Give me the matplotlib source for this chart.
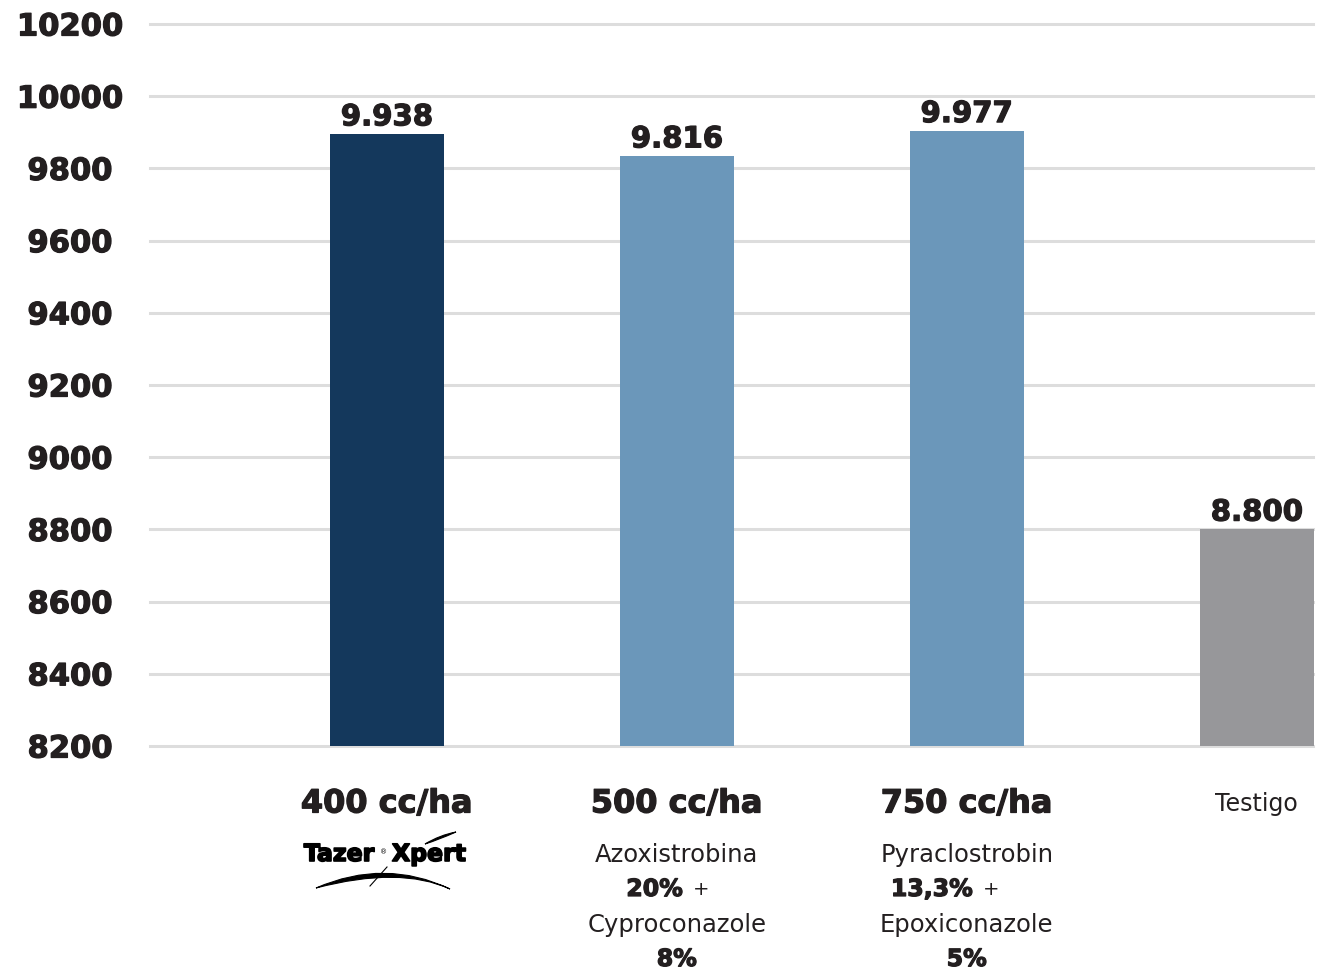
import matplotlib
matplotlib.use("Agg")
import matplotlib.pyplot as plt
import matplotlib.transforms as mtransforms
import matplotlib.patheffects as pe
from matplotlib.path import Path
from matplotlib.patches import PathPatch
import numpy as np

# data
doses = ["400 cc/ha", "500 cc/ha", "750 cc/ha", "Testigo"]
yields = [9895, 9834, 9904, 8800]
value_labels = ["9.938", "9.816", "9.977", "8.800"]
bar_colors = ["#14385C", "#6B97BA", "#6B97BA", "#97979A"]
yticks = list(range(8200, 10201, 200))

plt.rcParams['font.family'] = ['DejaVu Sans']
ink = "#231F20"
heavy = [pe.withStroke(linewidth=0.9, foreground=ink)]

W, H = 1319, 971
fig = plt.figure(figsize=(W / 100, H / 100), dpi=100)
ax = fig.add_axes([150 / W, 1 - 746 / H, (1317 - 150) / W, (746 - 24) / H])

x = np.arange(len(doses))
ax.bar(x, [v - 8200 for v in yields], bottom=8200, width=0.394,
       color=bar_colors, zorder=3, clip_on=False)
for xi, v, lab in zip(x, yields, value_labels):
    ax.annotate(lab, (xi, v), xytext=(0, 2), textcoords="offset points",
                ha="center", va="bottom", fontsize=21, fontweight="bold",
                color=ink, zorder=4, path_effects=heavy)

ax.set_xlim(-0.817, 3.208)
ax.set_ylim(8200, 10200)
ax.set_yticks(yticks)
ax.set_yticklabels([str(t) for t in yticks], ha="center",
                   fontsize=22, fontweight="bold", color=ink)
for lab in ax.get_yticklabels():
    lab.set_path_effects(heavy)
ax.tick_params(axis="y", length=0, pad=57.6)
ax.set_xticks([])
for s in ax.spines.values():
    s.set_visible(False)
for t in yticks:
    ax.plot([0, 0.9966], [t, t], transform=ax.get_yaxis_transform(),
            color="#DDDDDD", lw=2.2, zorder=1, clip_on=False)

# category labels below the axis
tr = ax.get_xaxis_transform()
def ypos(py):
    return (746 - py) / 722.0

for i in range(3):
    ax.text(i, ypos(804), doses[i], transform=tr, ha="center", va="center",
            fontsize=23, fontweight="bold", color=ink, path_effects=heavy)
ax.text(3, ypos(804), doses[3], transform=tr, ha="center", va="center",
        fontsize=17, color=ink)

def mixed(xi, py, bold, plain):
    off_b = mtransforms.offset_copy(tr, fig=fig, x=6, units="dots")
    ax.text(xi, ypos(py), bold, transform=off_b, ha="right", va="center",
            fontsize=17, fontweight="bold", color=ink, path_effects=heavy)
    off_p = mtransforms.offset_copy(tr, fig=fig, x=16, units="dots")
    ax.text(xi, ypos(py), plain, transform=off_p, ha="left", va="center",
            fontsize=14, color=ink)

reg = dict(ha="center", va="center", fontsize=17.5, color=ink)
ax.text(1, ypos(855), "Azoxistrobina", transform=tr, **reg)
mixed(1, 889, "20%", "+")
ax.text(1, ypos(925), "Cyproconazole", transform=tr, **reg)
ax.text(1, ypos(959), "8%", transform=tr, ha="center", va="center",
        fontsize=17, fontweight="bold", color=ink, path_effects=heavy)

ax.text(2, ypos(855), "Pyraclostrobin", transform=tr, **reg)
mixed(2, 889, "13,3%", "+")
ax.text(2, ypos(925), "Epoxiconazole", transform=tr, **reg)
ax.text(2, ypos(959), "5%", transform=tr, ha="center", va="center",
        fontsize=17, fontweight="bold", color=ink, path_effects=heavy)

# Tazer Xpert logo (text + swooshes), in figure pixels
logo_fx = [pe.withStroke(linewidth=1.2, foreground="black")]
fig.text(339 / W, 1 - 854 / H, "Tazer", ha="center", va="center",
         fontsize=17, fontweight="bold", color="black", path_effects=logo_fx)
fig.text(384 / W, 1 - 852 / H, "®", ha="center", va="center",
         fontsize=5, color="black")
fig.text(429 / W, 1 - 854 / H, "Xpert", ha="center", va="center",
         fontsize=17, fontweight="bold", color="black", path_effects=logo_fx)

def fpath(pts, codes):
    return Path([(px / W, 1 - py / H) for px, py in pts], codes)

C = Path.CURVE3
swoosh = fpath([(316, 888), (385, 858), (450, 889), (400, 866), (316, 888)],
               [Path.MOVETO, C, C, C, C])
fig.patches.append(PathPatch(swoosh, facecolor="black", edgecolor="black",
                             lw=0.8, transform=fig.transFigure))
flick = fpath([(425, 844), (440, 835), (456, 832), (438, 840), (425, 844)],
              [Path.MOVETO, C, C, C, C])
fig.patches.append(PathPatch(flick, facecolor="black", edgecolor="black",
                             lw=0.8, transform=fig.transFigure))
fig.lines.append(plt.Line2D([370 / W, 387 / W], [1 - 886 / H, 1 - 867 / H],
                            color="black", lw=0.8, transform=fig.transFigure))

fig.savefig("out.png", dpi=100, facecolor="white")
